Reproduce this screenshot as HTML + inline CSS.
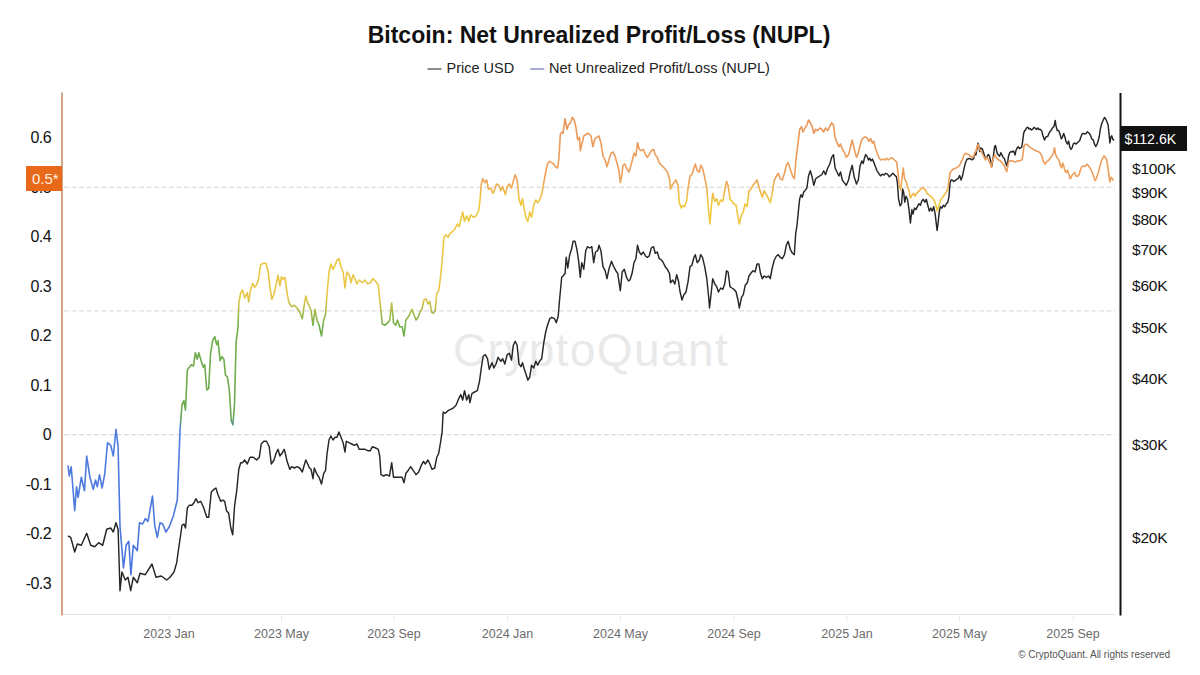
<!DOCTYPE html>
<html><head><meta charset="utf-8"><style>
html,body{margin:0;padding:0;background:#fff;}
body{width:1200px;height:675px;overflow:hidden;font-family:"Liberation Sans",sans-serif;}
svg{display:block;}
text{font-family:"Liberation Sans",sans-serif;}
</style></head><body>
<svg width="1200" height="675" viewBox="0 0 1200 675">
<defs>
<linearGradient id="ng" gradientUnits="userSpaceOnUse" x1="0" y1="608.0" x2="0" y2="88.2">
<stop offset="0.0000" stop-color="#4a72dc"/>
<stop offset="0.3429" stop-color="#4f7de0"/>
<stop offset="0.3667" stop-color="#6aa84f"/>
<stop offset="0.5429" stop-color="#72b04a"/>
<stop offset="0.6000" stop-color="#e8c64a"/>
<stop offset="0.7810" stop-color="#f0c840"/>
<stop offset="0.8286" stop-color="#eda05c"/>
<stop offset="1.0000" stop-color="#e89158"/>
</linearGradient>
</defs>
<rect width="1200" height="675" fill="#fff"/>
<text x="599" y="43" text-anchor="middle" font-size="23" font-weight="bold" fill="#111">Bitcoin: Net Unrealized Profit/Loss (NUPL)</text>
<line x1="427.5" y1="69" x2="441.5" y2="69" stroke="#5a5a5a" stroke-width="1.4"/>
<text x="446.5" y="72.5" font-size="14.5" fill="#222">Price USD</text>
<line x1="530.3" y1="69" x2="544.3" y2="69" stroke="#8088c4" stroke-width="1.4"/>
<text x="549" y="72.5" font-size="14.5" fill="#222">Net Unrealized Profit/Loss (NUPL)</text>
<text x="591" y="366" text-anchor="middle" font-size="46" fill="#e9e9e9" letter-spacing="1.4">CryptoQuant</text>
<line x1="64" y1="187.2" x2="1115" y2="187.2" stroke="#d3d3d3" stroke-width="1" stroke-dasharray="5,2.5"/>
<line x1="64" y1="310.9" x2="1115" y2="310.9" stroke="#d3d3d3" stroke-width="1" stroke-dasharray="5,2.5"/>
<line x1="64" y1="434.7" x2="1115" y2="434.7" stroke="#d3d3d3" stroke-width="1" stroke-dasharray="5,2.5"/>
<line x1="63" y1="614.5" x2="1115" y2="614.5" stroke="#e2e2e2" stroke-width="1"/>
<line x1="169.0" y1="615" x2="169.0" y2="622" stroke="#ececec" stroke-width="1"/>
<text x="169.0" y="638" text-anchor="middle" font-size="12.5" fill="#6b6b6b">2023 Jan</text>
<line x1="281.5" y1="615" x2="281.5" y2="622" stroke="#ececec" stroke-width="1"/>
<text x="281.5" y="638" text-anchor="middle" font-size="12.5" fill="#6b6b6b">2023 May</text>
<line x1="394.0" y1="615" x2="394.0" y2="622" stroke="#ececec" stroke-width="1"/>
<text x="394.0" y="638" text-anchor="middle" font-size="12.5" fill="#6b6b6b">2023 Sep</text>
<line x1="507.5" y1="615" x2="507.5" y2="622" stroke="#ececec" stroke-width="1"/>
<text x="507.5" y="638" text-anchor="middle" font-size="12.5" fill="#6b6b6b">2024 Jan</text>
<line x1="620.5" y1="615" x2="620.5" y2="622" stroke="#ececec" stroke-width="1"/>
<text x="620.5" y="638" text-anchor="middle" font-size="12.5" fill="#6b6b6b">2024 May</text>
<line x1="734.0" y1="615" x2="734.0" y2="622" stroke="#ececec" stroke-width="1"/>
<text x="734.0" y="638" text-anchor="middle" font-size="12.5" fill="#6b6b6b">2024 Sep</text>
<line x1="847.0" y1="615" x2="847.0" y2="622" stroke="#ececec" stroke-width="1"/>
<text x="847.0" y="638" text-anchor="middle" font-size="12.5" fill="#6b6b6b">2025 Jan</text>
<line x1="959.5" y1="615" x2="959.5" y2="622" stroke="#ececec" stroke-width="1"/>
<text x="959.5" y="638" text-anchor="middle" font-size="12.5" fill="#6b6b6b">2025 May</text>
<line x1="1073.0" y1="615" x2="1073.0" y2="622" stroke="#ececec" stroke-width="1"/>
<text x="1073.0" y="638" text-anchor="middle" font-size="12.5" fill="#6b6b6b">2025 Sep</text>
<line x1="62" y1="92.5" x2="62" y2="615.5" stroke="#d4a486" stroke-width="2"/>
<text x="51" y="143.3" text-anchor="end" font-size="16" letter-spacing="-0.6" fill="#111">0.6</text>
<text x="51" y="192.8" text-anchor="end" font-size="16" letter-spacing="-0.6" fill="#111">0.5</text>
<text x="51" y="242.3" text-anchor="end" font-size="16" letter-spacing="-0.6" fill="#111">0.4</text>
<text x="51" y="291.8" text-anchor="end" font-size="16" letter-spacing="-0.6" fill="#111">0.3</text>
<text x="51" y="341.3" text-anchor="end" font-size="16" letter-spacing="-0.6" fill="#111">0.2</text>
<text x="51" y="390.8" text-anchor="end" font-size="16" letter-spacing="-0.6" fill="#111">0.1</text>
<text x="51" y="440.3" text-anchor="end" font-size="16" letter-spacing="-0.6" fill="#111">0</text>
<text x="51" y="489.8" text-anchor="end" font-size="16" letter-spacing="-0.6" fill="#111">-0.1</text>
<text x="51" y="539.3" text-anchor="end" font-size="16" letter-spacing="-0.6" fill="#111">-0.2</text>
<text x="51" y="588.8" text-anchor="end" font-size="16" letter-spacing="-0.6" fill="#111">-0.3</text>
<line x1="1120.5" y1="93" x2="1120.5" y2="615.5" stroke="#111" stroke-width="2"/>
<text x="1132" y="173.6" font-size="15.5" letter-spacing="-0.2" fill="#111">$100K</text>
<text x="1132" y="197.8" font-size="15.5" letter-spacing="-0.2" fill="#111">$90K</text>
<text x="1132" y="224.8" font-size="15.5" letter-spacing="-0.2" fill="#111">$80K</text>
<text x="1132" y="255.4" font-size="15.5" letter-spacing="-0.2" fill="#111">$70K</text>
<text x="1132" y="290.7" font-size="15.5" letter-spacing="-0.2" fill="#111">$60K</text>
<text x="1132" y="332.5" font-size="15.5" letter-spacing="-0.2" fill="#111">$50K</text>
<text x="1132" y="383.7" font-size="15.5" letter-spacing="-0.2" fill="#111">$40K</text>
<text x="1132" y="449.7" font-size="15.5" letter-spacing="-0.2" fill="#111">$30K</text>
<text x="1132" y="542.7" font-size="15.5" letter-spacing="-0.2" fill="#111">$20K</text>
<polyline points="68.0,536.0 70.7,537.3 74.7,552.0 77.3,544.0 81.3,545.3 86.7,533.3 90.7,545.3 94.7,546.7 98.7,542.7 102.7,545.3 106.7,529.3 110.7,528.0 113.3,532.0 116.0,522.7 118.1,529.3 120.0,590.7 121.9,572.0 125.3,580.0 128.0,577.3 130.7,590.7 133.3,577.3 137.3,582.7 140.0,573.3 145.3,574.7 152.0,564.0 156.0,577.3 161.3,576.0 166.7,580.0 170.0,577.3 174.0,572.0 176.7,562.7 179.3,544.0 182.0,525.3 183.9,524.0 185.5,528.0 187.3,508.0 189.2,505.3 191.9,505.3 194.0,502.7 195.9,498.7 198.0,502.7 200.7,501.3 203.3,506.7 206.8,517.3 208.7,517.3 211.3,492.0 214.0,489.3 215.9,488.0 218.0,494.7 220.7,501.3 222.8,500.0 224.7,501.3 226.5,510.7 228.7,513.3 230.8,528.0 232.7,534.7 234.5,506.7 236.7,490.7 238.8,469.3 240.7,462.7 242.5,462.7 244.7,460.0 247.3,464.0 250.0,457.3 253.2,457.3 256.7,460.0 259.3,457.3 261.2,444.0 263.9,441.3 266.5,441.3 269.2,446.7 271.3,464.0 274.0,460.0 276.1,453.3 278.0,449.3 279.9,456.0 282.0,453.3 284.1,449.3 285.0,452.0 287.1,461.3 289.8,469.3 291.7,466.7 294.3,468.0 297.0,466.7 299.7,468.0 302.3,472.0 304.2,465.3 305.8,460.0 307.7,464.0 309.5,468.0 311.1,469.3 313.0,478.7 314.3,468.0 316.5,473.3 319.1,477.3 321.5,484.0 323.7,473.3 325.5,470.7 327.1,453.3 329.0,440.0 330.9,436.0 333.0,440.0 335.1,437.3 337.0,437.3 338.9,432.0 341.0,437.3 343.1,442.7 345.0,452.0 346.3,441.3 349.0,442.7 351.7,444.0 354.3,445.3 357.0,444.0 359.1,449.3 362.3,449.3 365.0,449.3 367.7,450.7 370.3,450.7 372.5,446.7 375.7,448.0 378.3,449.3 379.7,456.0 381.0,474.7 383.7,476.0 386.3,474.7 389.5,476.0 391.7,462.7 393.5,477.3 396.5,477.3 399.1,477.3 402.1,477.3 404.0,482.7 405.9,473.3 408.0,470.7 410.7,466.7 413.3,470.7 416.0,474.7 418.7,472.0 421.3,465.3 423.5,461.3 425.3,464.0 428.0,460.0 429.9,464.0 432.0,469.3 434.7,468.0 436.8,457.3 438.7,453.3 440.5,442.7 442.1,432.0 443.2,412.0 445.3,413.3 448.0,410.7 450.7,409.3 453.3,408.0 456.0,405.3 458.7,398.7 460.8,394.7 462.7,400.0 464.5,390.7 466.7,400.0 468.8,394.7 469.9,402.7 472.0,393.3 474.7,392.0 477.3,390.7 479.5,381.3 481.3,368.0 483.2,356.0 485.3,354.7 487.5,358.7 489.3,369.3 492.0,362.7 493.9,368.0 496.0,364.0 498.1,357.3 500.8,361.3 502.7,358.7 504.8,364.0 507.2,354.7 509.3,353.3 511.5,360.0 513.3,345.3 515.2,341.3 517.1,345.3 519.0,364.0 520.9,366.7 522.5,362.7 524.3,369.3 526.2,374.7 527.8,380.0 529.7,377.3 531.5,365.3 533.7,368.0 535.8,361.3 537.7,365.3 539.5,361.3 541.7,358.7 543.8,342.7 545.7,332.0 547.5,325.3 549.7,318.7 551.8,317.3 554.5,318.7 556.3,322.7 558.2,316.0 559.8,297.3 561.7,277.3 563.0,276.0 565.1,273.3 566.2,257.3 567.8,268.0 569.7,254.7 571.5,249.3 573.1,241.3 575.0,241.3 576.9,249.3 578.5,260.0 580.3,277.3 581.7,262.7 583.8,269.3 585.7,250.7 587.5,246.7 589.7,248.0 591.8,246.7 593.7,262.7 595.5,252.0 597.7,250.7 599.0,245.3 600.9,250.7 603.0,266.7 605.1,270.7 607.0,278.7 608.9,269.3 611.5,261.3 613.7,266.7 615.8,270.7 617.7,273.3 620.3,290.7 622.2,272.0 624.3,269.3 626.5,277.3 628.5,281.0 630.0,280.0 632.1,273.3 634.0,262.7 635.9,258.7 637.5,245.3 639.3,252.0 641.2,254.7 643.3,252.0 645.5,256.0 647.3,257.3 649.2,256.0 651.3,248.0 653.5,246.7 655.3,253.3 657.2,252.0 659.3,258.7 661.5,260.0 663.3,262.7 665.2,266.7 667.3,269.3 669.5,273.3 670.5,282.7 672.7,280.0 674.8,284.0 676.7,274.7 678.5,281.3 680.1,292.0 682.0,300.0 683.9,294.7 686.0,292.0 688.1,281.3 690.0,266.7 691.9,265.3 694.0,257.3 695.3,254.7 697.2,262.7 699.3,260.0 700.7,254.7 702.5,257.3 704.7,266.7 706.8,278.7 708.7,297.3 709.5,308.0 711.3,292.0 712.7,278.7 714.8,284.0 716.7,286.7 718.5,292.0 720.7,288.0 722.8,289.3 724.7,284.0 726.5,270.7 728.1,272.0 730.0,286.7 731.9,288.0 734.0,289.3 736.1,292.0 738.0,300.0 739.3,308.0 741.5,297.3 743.3,294.7 745.2,285.3 747.3,282.7 749.0,276.0 750.9,273.3 753.0,270.7 755.1,272.0 757.0,264.0 758.9,264.0 760.5,273.3 762.3,278.7 764.2,276.0 766.3,277.3 768.5,276.0 770.3,278.7 772.2,268.0 774.3,260.0 776.5,256.0 778.3,254.7 780.2,257.3 782.3,258.7 784.5,254.7 786.3,245.3 788.2,241.3 790.3,249.3 792.5,253.3 794.3,254.7 795.7,233.3 797.0,225.3 798.3,212.0 799.7,198.7 801.0,194.7 802.3,197.3 803.7,192.0 805.0,190.7 806.9,188.0 808.5,176.0 810.3,170.7 812.2,177.3 813.8,185.3 815.7,178.7 817.5,177.3 819.7,176.0 821.8,174.7 823.7,170.7 825.5,174.7 827.7,168.0 829.8,164.0 831.7,157.3 833.5,154.7 835.1,168.0 837.0,172.0 838.9,176.0 840.5,172.0 842.3,180.0 844.2,182.7 846.3,185.3 848.5,180.0 850.3,172.0 852.2,165.3 854.3,177.3 856.5,184.0 858.3,180.0 860.0,166.2 861.8,160.9 863.2,163.5 864.4,158.2 865.7,154.6 867.1,156.4 868.5,160.0 869.8,158.2 871.0,160.9 872.4,159.1 873.9,162.6 875.6,167.1 876.9,170.6 878.7,173.3 880.4,175.9 882.2,174.2 884.0,175.1 885.8,173.3 887.5,174.2 889.3,176.8 891.1,175.1 892.9,173.3 894.6,175.1 896.4,176.8 897.4,183.0 898.6,199.3 900.1,205.9 901.6,203.7 902.6,188.9 903.6,191.9 904.8,202.2 906.0,196.3 907.5,199.3 909.0,209.6 910.4,223.0 911.9,209.6 913.0,214.1 914.4,208.1 915.9,209.6 917.4,206.7 918.9,203.7 920.4,205.2 921.9,200.7 923.3,199.3 924.8,202.2 926.3,199.3 927.8,205.2 929.3,211.1 930.7,208.1 932.2,211.1 933.7,206.7 935.2,214.1 936.2,223.0 937.1,230.4 938.1,223.0 939.2,212.6 940.4,206.7 941.9,208.1 943.3,205.2 944.8,206.7 946.3,203.7 947.8,202.2 949.0,196.3 950.0,183.0 951.0,180.0 952.2,180.0 953.7,181.5 955.2,180.7 956.7,179.3 958.1,178.5 959.6,175.6 961.1,180.0 962.6,175.6 964.1,168.1 965.6,162.2 967.0,159.3 969.3,158.5 970.0,158.6 971.8,159.8 973.6,158.6 974.7,153.8 975.9,155.0 977.1,147.9 978.1,143.2 978.9,146.7 979.7,151.5 980.9,147.9 982.4,149.1 983.6,152.7 984.8,156.8 986.0,158.6 987.2,156.2 988.4,154.4 989.5,156.2 990.7,160.9 991.6,166.9 992.5,162.1 993.7,153.8 994.6,146.7 995.5,145.5 996.3,149.1 997.3,153.8 998.4,155.0 999.6,156.2 1000.8,152.7 1002.0,155.0 1003.2,157.4 1004.4,158.6 1005.5,162.1 1006.7,165.7 1007.7,162.1 1008.5,156.2 1009.7,152.7 1010.9,151.5 1012.1,152.1 1013.2,150.9 1014.4,152.7 1015.0,155.0 1016.0,150.3 1017.2,147.9 1018.3,146.7 1019.5,148.5 1020.7,147.9 1021.9,146.7 1022.7,140.8 1023.6,133.7 1024.5,130.7 1025.5,130.1 1026.6,127.8 1027.8,127.2 1029.0,129.0 1030.2,128.4 1031.4,130.1 1032.8,129.0 1034.2,127.2 1035.4,128.4 1036.6,129.5 1037.8,127.8 1039.0,129.5 1040.0,129.3 1041.8,131.1 1043.0,135.8 1044.5,140.0 1045.9,137.0 1047.7,136.4 1049.5,132.3 1050.9,130.5 1052.4,128.1 1054.0,126.3 1055.2,120.4 1056.0,125.7 1057.2,130.5 1058.7,130.5 1060.1,134.6 1061.3,138.8 1062.5,137.0 1063.7,133.4 1064.9,137.0 1066.1,141.7 1067.5,144.1 1068.7,141.1 1069.9,147.7 1071.0,149.4 1072.2,147.7 1073.2,144.1 1074.4,142.9 1076.1,144.1 1077.9,142.3 1079.7,140.5 1080.9,137.0 1082.1,134.0 1083.2,133.4 1084.8,134.0 1086.2,133.4 1087.4,131.7 1088.6,132.8 1089.8,134.0 1090.9,136.4 1092.1,139.4 1093.3,140.0 1094.5,144.1 1095.7,146.5 1096.9,144.7 1098.1,141.1 1099.2,137.0 1100.4,128.7 1101.6,124.0 1103.0,120.4 1104.6,117.4 1105.8,119.2 1106.9,121.6 1108.1,125.1 1109.0,133.4 1109.9,142.9 1110.9,137.0 1111.7,135.8 1112.9,139.4 1114.1,140.5" fill="none" stroke="#262626" stroke-width="1.45" stroke-linejoin="round"/>
<polyline points="68.0,465.3 69.3,476.0 71.2,466.7 74.7,510.7 76.5,486.7 78.1,497.3 81.3,477.3 84.5,490.7 86.7,456.0 89.9,477.3 93.3,489.3 95.5,480.0 97.3,486.7 99.5,474.7 102.1,488.0 104.8,473.3 107.5,442.7 110.7,445.3 113.3,456.0 116.0,429.3 118.1,446.7 120.0,526.7 123.5,568.0 126.1,545.3 128.8,541.3 130.9,574.7 133.3,545.3 137.3,550.7 139.5,522.7 142.7,524.0 145.3,518.7 148.0,521.3 152.5,496.0 154.7,525.3 157.3,537.3 160.0,522.7 162.7,524.0 165.9,532.0 169.3,526.7 173.3,516.0 177.3,500.0 180.1,428.7 182.0,404.7 183.9,400.7 185.5,410.0 187.3,370.0 189.2,367.3 191.3,364.7 193.5,366.0 195.3,352.7 197.2,359.3 198.8,352.7 201.5,362.0 203.3,367.3 204.7,364.7 206.8,390.0 208.7,388.7 210.5,354.0 212.7,340.7 214.8,336.7 216.7,344.7 218.0,340.7 220.1,360.7 222.0,356.7 223.9,359.3 225.5,375.3 227.3,376.7 229.2,388.7 231.3,420.7 232.9,424.7 234.5,404.7 236.1,342.0 238.0,327.3 238.8,303.3 240.7,292.7 242.5,290.0 244.7,298.0 247.3,292.7 248.7,302.0 250.5,290.0 252.7,283.3 254.8,287.3 256.7,284.7 258.5,279.3 260.7,264.7 263.3,263.3 266.0,263.3 268.1,271.3 270.0,287.3 271.9,299.3 274.0,294.0 276.1,284.7 278.0,275.3 279.9,286.0 281.5,276.7 283.3,279.3 285.0,277.3 287.1,293.3 289.0,302.7 291.7,306.7 294.3,305.3 297.0,308.0 299.7,312.0 302.3,318.7 304.2,305.3 305.8,296.0 307.7,302.7 309.5,306.7 311.1,310.7 313.0,325.3 314.9,309.3 317.0,320.0 319.1,325.3 321.5,336.0 323.7,320.0 325.5,314.7 327.1,293.3 329.0,272.0 330.9,264.0 333.0,269.3 335.1,265.3 337.0,260.0 338.9,258.7 341.0,266.7 343.1,272.0 345.0,288.0 346.9,272.0 349.0,274.7 351.1,282.7 353.0,274.7 354.9,278.7 357.0,284.0 359.1,280.0 362.3,282.7 365.0,280.0 367.7,284.0 370.3,282.7 373.0,278.7 375.7,281.3 378.3,285.3 380.5,306.7 382.3,324.0 385.0,325.3 387.7,322.7 389.8,320.0 391.7,302.7 393.5,322.7 395.7,325.3 397.5,320.0 399.7,326.7 402.1,326.7 404.0,336.0 405.9,320.0 408.0,317.3 410.1,313.3 412.0,309.3 413.9,314.7 416.0,320.0 418.1,317.3 420.0,312.0 421.9,309.3 424.0,300.0 426.1,298.7 428.0,304.0 429.9,301.3 431.5,312.0 433.3,313.3 435.2,310.7 436.8,293.3 438.7,290.7 440.5,277.3 442.1,261.3 444.0,237.3 445.9,234.7 448.0,237.3 450.1,233.3 452.0,232.0 454.7,229.3 457.3,224.0 459.2,226.7 460.8,220.0 462.7,212.0 464.5,221.3 466.7,216.0 468.8,221.3 470.7,214.7 473.3,217.3 476.0,216.0 478.7,210.7 480.0,200.0 481.3,184.0 482.7,178.7 484.8,182.7 486.7,180.0 488.5,189.3 490.7,188.0 492.8,193.3 494.7,189.3 496.5,184.0 498.7,185.3 500.8,190.7 502.7,186.7 505.3,194.7 507.2,186.7 509.3,184.0 511.5,188.0 513.3,181.3 515.2,174.7 517.1,180.0 519.0,198.7 520.9,205.3 522.5,198.7 524.3,209.3 526.2,218.7 527.8,221.3 529.7,212.0 531.5,217.3 533.7,205.3 535.8,200.0 537.7,202.7 539.5,200.0 541.7,194.7 543.8,182.7 545.7,172.0 547.5,164.0 549.7,161.3 551.8,162.7 553.7,164.0 555.5,166.7 557.7,168.0 559.0,157.3 560.3,134.7 561.7,132.0 563.0,133.3 565.1,118.7 567.0,129.3 568.3,125.3 570.5,122.7 572.3,117.3 574.2,120.0 575.8,126.7 577.7,140.0 579.5,137.3 580.3,150.7 582.2,142.7 583.8,136.0 585.7,134.7 588.3,133.3 591.0,136.0 592.9,146.7 595.0,138.7 597.1,137.3 599.0,136.0 600.9,142.7 603.0,156.0 605.1,160.0 607.0,166.7 608.9,160.0 611.0,153.3 613.1,152.0 615.0,156.0 616.9,162.7 619.0,170.7 620.3,182.7 621.7,176.0 623.0,165.3 624.9,164.0 627.0,169.3 629.1,172.0 632.1,161.3 634.0,153.3 635.9,156.0 637.5,142.7 639.3,149.3 641.2,150.7 643.3,149.3 645.5,154.7 647.3,157.3 649.2,154.7 651.3,150.7 653.5,149.3 655.3,154.7 657.2,157.3 659.3,162.7 661.5,165.3 663.3,166.7 665.2,169.3 667.3,172.0 669.5,178.7 670.5,189.3 672.1,185.3 674.0,182.7 675.9,180.0 678.0,185.3 679.3,202.7 681.2,208.0 682.8,205.3 684.7,206.7 686.5,201.3 688.1,188.0 690.0,176.0 691.9,174.7 694.0,168.0 695.3,164.0 697.2,170.7 699.3,172.0 700.7,165.3 702.5,168.0 704.7,177.3 706.8,188.0 708.7,212.0 710.0,224.0 711.3,206.7 712.7,193.3 714.8,201.3 716.7,198.7 718.5,205.3 720.7,200.0 722.8,201.3 724.7,190.7 726.5,181.3 728.1,185.3 730.0,198.7 731.9,201.3 734.0,204.0 736.1,205.3 738.0,217.3 739.3,224.0 741.5,214.7 743.3,212.0 745.0,204.0 747.1,206.7 749.0,190.7 750.9,189.3 753.0,185.3 755.1,182.7 757.0,180.0 758.9,186.7 760.5,192.0 762.3,197.3 764.2,190.7 766.3,194.7 768.5,198.7 770.3,202.7 772.2,193.3 774.3,180.0 776.5,176.0 778.3,173.3 780.2,178.7 782.3,180.0 784.5,173.3 786.3,165.3 788.2,162.7 790.3,169.3 792.5,176.0 794.3,178.7 796.2,157.3 797.8,145.3 799.7,129.3 801.5,126.7 803.1,132.0 805.0,128.0 806.9,125.3 808.5,120.0 810.3,122.7 812.2,126.7 813.8,133.3 815.7,129.3 817.5,130.7 819.7,128.0 821.8,129.3 823.7,132.0 825.5,128.0 827.7,130.7 829.8,126.7 831.7,122.7 833.5,125.3 835.1,137.3 837.0,142.7 838.9,146.7 840.5,144.0 842.3,149.3 844.2,152.0 846.3,157.3 848.5,154.7 850.3,148.0 852.2,140.0 854.3,149.3 856.5,157.3 858.3,153.3 860.2,145.0 861.8,139.5 863.6,137.8 865.3,136.9 867.1,137.8 868.9,141.3 870.7,138.7 872.4,143.1 873.9,141.3 875.6,148.4 877.4,153.7 879.2,158.2 881.0,160.0 883.1,159.1 884.9,160.0 886.6,158.2 888.4,160.0 890.2,158.2 892.2,157.8 894.4,160.0 896.7,162.2 898.1,174.1 899.2,184.4 900.7,190.0 902.1,177.0 903.3,168.1 904.5,178.5 906.0,181.5 907.5,185.9 909.0,190.4 910.4,198.0 912.2,194.8 913.7,193.3 915.2,196.3 916.7,193.3 918.9,191.1 921.1,188.9 923.3,187.4 925.6,190.4 927.0,193.3 928.8,194.8 930.7,196.3 933.0,198.5 934.4,200.7 935.9,205.2 937.4,211.0 938.9,205.2 941.1,199.3 943.3,196.3 945.6,193.3 947.8,188.9 949.0,180.0 950.0,172.6 951.9,170.4 953.7,168.9 955.9,168.1 958.1,166.7 959.6,165.2 961.1,162.2 962.6,159.3 964.1,154.8 965.6,153.3 967.0,154.1 969.3,154.8 970.0,156.2 971.8,157.4 973.6,156.8 974.7,152.7 975.9,151.5 977.1,146.7 978.1,144.4 979.2,149.1 980.7,150.3 981.8,152.7 983.0,155.0 984.2,157.4 985.4,159.8 986.6,157.4 987.8,158.6 989.0,160.9 990.1,163.3 991.3,166.9 992.5,160.9 993.7,157.4 994.9,155.0 996.1,157.4 997.3,158.6 998.4,159.8 1000.2,160.9 1001.4,162.1 1002.6,163.3 1004.4,165.7 1005.5,169.2 1006.7,171.6 1007.7,166.9 1008.5,162.1 1010.3,160.9 1012.7,160.9 1015.0,162.1 1017.4,160.9 1019.8,160.9 1022.1,159.8 1023.1,153.8 1023.9,146.7 1025.1,144.4 1026.6,144.4 1028.1,145.5 1029.2,146.7 1031.0,147.9 1032.8,149.1 1034.6,150.3 1036.4,150.9 1038.1,151.5 1039.9,152.7 1041.8,155.9 1043.6,161.9 1045.0,164.2 1046.5,161.9 1048.3,160.7 1050.1,158.3 1051.8,155.9 1053.3,153.6 1054.5,147.7 1055.4,153.6 1056.6,157.1 1057.8,158.3 1059.2,160.7 1060.4,165.4 1061.6,167.8 1062.7,163.1 1063.9,166.6 1065.1,171.4 1066.3,172.5 1067.5,170.2 1068.7,173.7 1069.9,178.5 1071.0,177.9 1072.2,174.9 1073.4,173.7 1074.6,172.5 1076.1,176.1 1077.7,176.1 1079.1,174.9 1080.3,170.2 1081.5,167.2 1082.9,166.0 1084.4,166.6 1086.0,165.4 1087.2,164.2 1088.6,166.0 1089.8,167.8 1091.2,170.2 1092.7,173.7 1093.9,177.3 1095.1,180.8 1096.3,178.5 1097.5,174.9 1098.6,171.4 1099.8,166.6 1101.0,161.9 1102.6,158.3 1104.0,155.9 1105.2,157.1 1106.6,159.5 1107.8,166.6 1108.7,173.7 1109.9,182.0 1111.1,177.3 1112.3,178.5 1113.2,180.8" fill="none" stroke="url(#ng)" stroke-width="1.6" stroke-linejoin="round"/>
<rect x="26" y="166" width="36" height="25" fill="#e8691a"/>
<text x="32" y="184" font-size="15" fill="#fff3e0">0.5*</text>
<rect x="1121" y="126" width="66" height="25" fill="#111"/>
<text x="1124.5" y="144" font-size="14.2" fill="#fff">$112.6K</text>
<text x="1170" y="658" text-anchor="end" font-size="10" fill="#555">© CryptoQuant. All rights reserved</text>
</svg>
</body></html>
